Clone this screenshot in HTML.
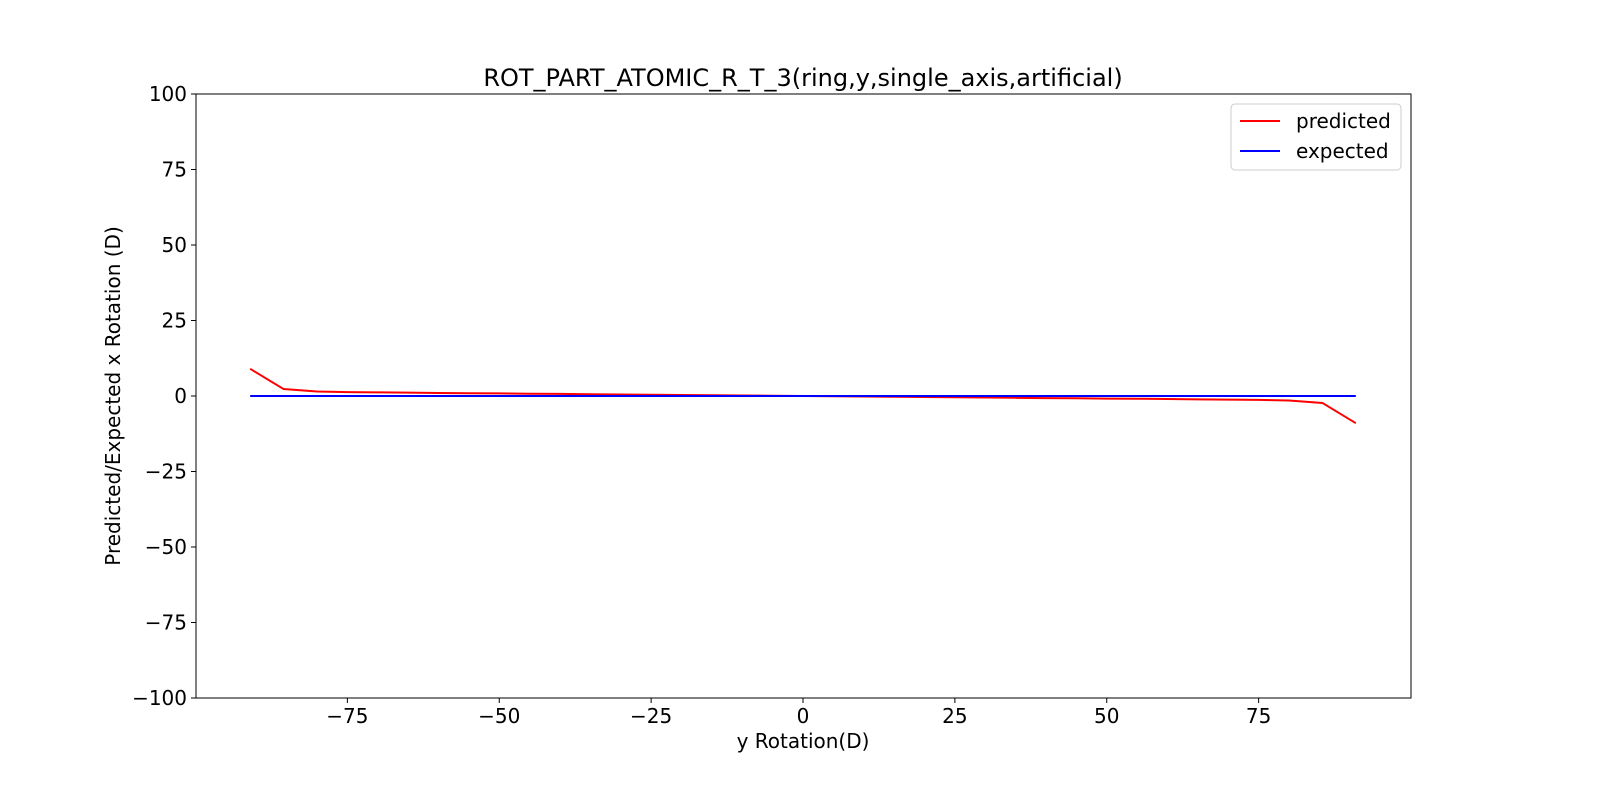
<!DOCTYPE html>
<html><head><meta charset="utf-8"><style>
html,body{margin:0;padding:0;background:#fff;overflow:hidden;width:1600px;height:800px}
svg{display:block}
svg text{font-family:"DejaVu Sans","Liberation Sans",sans-serif}
</style></head><body>
<svg id="c" width="1600" height="800" xmlns="http://www.w3.org/2000/svg"></svg>
<script>
const xValues=[-91,-85.5,-80,-75,-70,-65,-60,-55,-50,-45,-40,-35,-30,-25,-20,-15,-10,-5,0,5,10,15,20,25,30,35,40,45,50,55,60,65,70,75,80,85.5,91];
const predicted=[9,2.3,1.5,1.3,1.2,1.1,1.0,0.9,0.85,0.75,0.7,0.6,0.5,0.42,0.33,0.25,0.17,0.08,0,-0.08,-0.17,-0.25,-0.33,-0.42,-0.5,-0.6,-0.7,-0.75,-0.85,-0.9,-1.0,-1.1,-1.2,-1.3,-1.5,-2.3,-9];
const expected=xValues.map(()=>0);
const xTicks=[-75,-50,-25,0,25,50,75];
const yTicks=[-100,-75,-50,-25,0,25,50,75,100];
const L=196,R=1411,T=94,B=698;
const X=v=>803+v*6.075, Y=v=>396-v*3.02;
const svg=document.getElementById('c');const NS='http://www.w3.org/2000/svg';
function add(tag,at,txt){const e=document.createElementNS(NS,tag);for(const k in at)e.setAttribute(k,at[k]);if(txt!==undefined)e.textContent=txt;svg.appendChild(e);return e;}
let e=add('rect',{x:L,y:T,width:R-L,height:B-T,fill:'none',stroke:'#000','stroke-width':1});

xTicks.forEach(t=>{add('line',{x1:X(t),x2:X(t),y1:B,y2:B+5,stroke:'#000'});
 e=add('text',{x:X(t),y:B+25,'font-size':20,'text-anchor':'middle'},t<0?'\u2212'+(-t):t);
 });
yTicks.forEach(t=>{add('line',{x1:L-5,x2:L,y1:Y(t),y2:Y(t),stroke:'#000'});
 e=add('text',{x:L-9,y:Y(t)+7,'font-size':20,'text-anchor':'end'},t<0?'\u2212'+(-t):t);
 });
function line(vals,col,name){e=add('polyline',{points:xValues.map((x,i)=>X(x)+','+Y(vals[i])).join(' '),fill:'none',stroke:col,'stroke-width':2});
 }
line(predicted,'#ff0000','predicted-line');line(expected,'#0000ff','expected-line');
e=add('text',{x:803,y:86,'font-size':24,'text-anchor':'middle'},'ROT_PART_ATOMIC_R_T_3(ring,y,single_axis,artificial)');

e=add('text',{x:803,y:748,'font-size':20,'text-anchor':'middle'},'y Rotation(D)');

e=add('text',{x:120,y:396,'font-size':20,'text-anchor':'middle',transform:'rotate(-90 120 396)'},'Predicted/Expected x Rotation (D)');

e=add('rect',{x:1231,y:104,width:170,height:66,rx:4,fill:'#fff',stroke:'#ccc'});

add('line',{x1:1240,x2:1280,y1:121,y2:121,stroke:'#ff0000','stroke-width':2});
e=add('text',{x:1296,y:128,'font-size':20},'predicted');

add('line',{x1:1240,x2:1280,y1:151,y2:151,stroke:'#0000ff','stroke-width':2});
e=add('text',{x:1296,y:158,'font-size':20},'expected');

</script></body></html>
